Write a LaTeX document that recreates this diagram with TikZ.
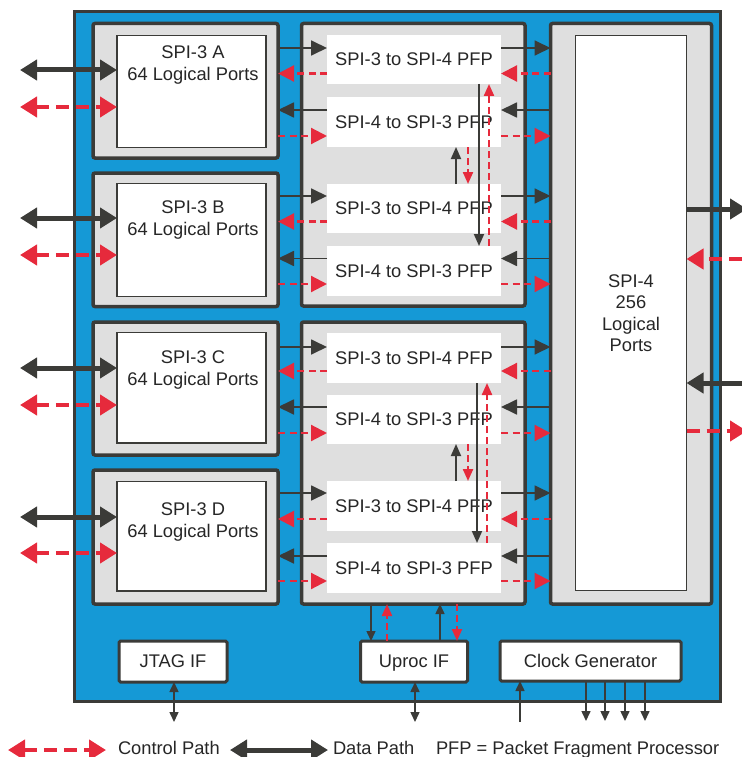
\documentclass[tikz,border=0pt]{standalone}
\usepackage{fontspec}
\setmainfont{Liberation Sans}
\usetikzlibrary{arrows.meta}
\definecolor{chipblue}{HTML}{1599D6}
\definecolor{boxgray}{HTML}{DFDFDF}
\definecolor{edgec}{HTML}{3B3B38}
\definecolor{ctrlred}{HTML}{E62A3C}
\definecolor{txtc}{HTML}{262626}
\tikzset{
  lab/.style={font=\fontsize{18.3pt}{21.5pt}\selectfont, text=txtc, inner sep=0pt, outer sep=0pt},
  blk/.style={outer sep=0pt, inner sep=0pt, anchor=north west},
  grp/.style={blk, draw=edgec, fill=boxgray, line width=3.5pt, rounded corners=2pt},
  wbox/.style={blk, draw=edgec, fill=white, line width=1.5pt},
  pfp/.style={blk, lab, fill=white, text depth=0pt, minimum width=174pt},
  iobox/.style={blk, lab, draw=edgec, fill=white, line width=3pt, rounded corners=1.5pt, text depth=0pt},
  da/.style={draw=edgec, line width=1.8pt, -{Triangle[length=16pt,width=15pt]}},
  ca/.style={draw=ctrlred, line width=2.2pt, dash pattern=on 7pt off 4.5pt, -{Triangle[length=16pt,width=16pt]}},
  vda/.style={draw=edgec, line width=1.8pt, -{Triangle[length=12pt,width=10pt]}},
  vca/.style={draw=ctrlred, line width=2.2pt, dash pattern=on 7pt off 4pt, -{Triangle[length=12pt,width=10pt]}},
  ba/.style={draw=edgec, line width=1.5pt, -{Triangle[length=10pt,width=9pt]}},
  bda/.style={draw=edgec, line width=1.5pt, {Triangle[length=10pt,width=9pt]}-{Triangle[length=10pt,width=9pt]}},
  xda/.style={draw=edgec, line width=5pt, {Triangle[length=17pt,width=20pt]}-{Triangle[length=17pt,width=20pt]}},
  xca/.style={draw=ctrlred, line width=4.5pt, dash pattern=on 13pt off 7pt, {Triangle[length=17pt,width=20pt]}-{Triangle[length=17pt,width=20pt]}},
  xdr/.style={draw=edgec, line width=5pt, -{Triangle[length=17pt,width=20pt]}},
  xcr/.style={draw=ctrlred, line width=4.5pt, dash pattern=on 13pt off 7pt, -{Triangle[length=17pt,width=20pt]}},
}
\begin{document}
\begin{tikzpicture}[x=1pt,y=-1pt]
\useasboundingbox (0,0) rectangle (741,757);
% chip outline
\node[blk, draw=edgec, fill=chipblue, line width=3pt, minimum width=646.5pt, minimum height=690pt] (chip) at (74,11.5) {};
% SPI-3 blocks
\node[grp, minimum width=185pt, minimum height=134.5pt] (gA) at (93,23.5) {};
\node[grp, minimum width=185pt, minimum height=133.5pt] (gB) at (93,173) {};
\node[grp, minimum width=185pt, minimum height=133pt] (gC) at (93,322) {};
\node[grp, minimum width=185pt, minimum height=134pt] (gD) at (93,470) {};
\node[wbox, minimum width=149pt, minimum height=112pt] (wA) at (117,35.5) {};
\node[wbox, minimum width=149pt, minimum height=113pt] (wB) at (117,183.5) {};
\node[wbox, minimum width=149pt, minimum height=110.5pt] (wC) at (117,332.5) {};
\node[wbox, minimum width=149pt, minimum height=109.5pt] (wD) at (117,481.5) {};
\node[lab, anchor=base] (tA1) at (193,58.3) {SPI-3 A};
\node[lab, anchor=base] (tA2) at (193,80.5) {64 Logical Ports};
\node[lab, anchor=base] (tB1) at (193,213) {SPI-3 B};
\node[lab, anchor=base] (tB2) at (193,235) {64 Logical Ports};
\node[lab, anchor=base] (tC1) at (193,363) {SPI-3 C};
\node[lab, anchor=base] (tC2) at (193,385) {64 Logical Ports};
\node[lab, anchor=base] (tD1) at (193,515) {SPI-3 D};
\node[lab, anchor=base] (tD2) at (193,537) {64 Logical Ports};
% PFP groups
\node[grp, minimum width=223.5pt, minimum height=282.5pt] (G1) at (301.5,23.5) {};
\node[grp, minimum width=223.5pt, minimum height=282pt] (G2) at (301.5,322) {};
\node[pfp, minimum height=49pt] (p1) at (327,35) {SPI-3 to SPI-4 PFP};
\node[pfp, minimum height=50pt] (p2) at (327,97) {SPI-4 to SPI-3 PFP};
\node[pfp, minimum height=49pt] (p3) at (327,184) {SPI-3 to SPI-4 PFP};
\node[pfp, minimum height=50pt] (p4) at (327,246) {SPI-4 to SPI-3 PFP};
\node[pfp, minimum height=50pt] (q1) at (327,333) {SPI-3 to SPI-4 PFP};
\node[pfp, minimum height=49pt] (q2) at (327,395) {SPI-4 to SPI-3 PFP};
\node[pfp, minimum height=50pt] (q3) at (327,481) {SPI-3 to SPI-4 PFP};
\node[pfp, minimum height=50pt] (q4) at (327,543) {SPI-4 to SPI-3 PFP};
% SPI-4 block
\node[grp, minimum width=161pt, minimum height=580.5pt] (g4) at (550.5,23.5) {};
\node[wbox, lab, align=center, minimum width=111pt, minimum height=555pt] (s4) at (575.5,35.5) {SPI-4\\256\\Logical\\Ports};
% bottom blocks
\node[iobox, minimum width=108pt, minimum height=41pt] (jtag) at (119,641) {JTAG IF};
\node[iobox, minimum width=107pt, minimum height=41pt] (uproc) at (360.5,641) {Uproc IF};
\node[iobox, minimum width=181pt, minimum height=40pt] (clk) at (500,641) {Clock Generator};
% horizontal paths SPI-3 <-> PFP <-> SPI-4
\foreach \s/\pa/\pb/\ya/\yb/\yc/\yd in {gA/p1/p2/48/73.5/110/136, gB/p3/p4/196/221.5/258.5/284, gC/q1/q2/347/371/407/433, gD/q3/q4/493/519/556/581}{
  \draw[da] (\s.east |- 0,\ya) -- (\pa.west |- 0,\ya);
  \draw[ca] (\pa.west |- 0,\yb) -- (\s.east |- 0,\yb);
  \draw[da] (\pb.west |- 0,\yc) -- (\s.east |- 0,\yc);
  \draw[ca] (\s.east |- 0,\yd) -- (\pb.west |- 0,\yd);
  \draw[da] (\pa.east |- 0,\ya) -- (g4.west |- 0,\ya);
  \draw[ca] (g4.west |- 0,\yb) -- (\pa.east |- 0,\yb);
  \draw[da] (g4.west |- 0,\yc) -- (\pb.east |- 0,\yc);
  \draw[ca] (\pb.east |- 0,\yd) -- (g4.west |- 0,\yd);
}
% vertical paths inside groups
\draw[vda] (p1.south -| 479,0) -- (p4.north -| 479,0);
\draw[vca] (p4.north -| 489,0) -- (p1.south -| 489,0);
\draw[vda] (p3.north -| 456,0) -- (p2.south -| 456,0);
\draw[vca] (p2.south -| 468,0) -- (p3.north -| 468,0);
\draw[vda] (q1.south -| 477,0) -- (q4.north -| 477,0);
\draw[vca] (q4.north -| 487,0) -- (q1.south -| 487,0);
\draw[vda] (q3.north -| 456,0) -- (q2.south -| 456,0);
\draw[vca] (q2.south -| 468,0) -- (q3.north -| 468,0);
% PFP group 2 <-> Uproc
\draw[ba] (G2.south -| 371,0) -- (uproc.north -| 371,0);
\draw[vca] (uproc.north -| 387,0) -- (G2.south -| 387,0);
\draw[ba] (uproc.north -| 440,0) -- (G2.south -| 440,0);
\draw[vca] (G2.south -| 457,0) -- (uproc.north -| 457,0);
% bottom external
\coordinate (jt) at (174,722);
\draw[bda] (jtag.south -| jt) -- (jt);
\coordinate (ut) at (415,722);
\draw[bda] (uproc.south -| ut) -- (ut);
\coordinate (ci) at (520,722);
\draw[ba] (ci) -- (clk.south -| ci);
\foreach \x [count=\i] in {586,605,625,645}{
  \coordinate (co\i) at (\x,721);
  \draw[ba] (clk.south -| co\i) -- (co\i);
}
% left external
\foreach \w/\yd/\yc in {wA/70/107, wB/218/255, wC/368/405, wD/517/553}{
  \coordinate (Ld\w) at (20,\yd);
  \coordinate (Lc\w) at (20,\yc);
  \draw[xda] (Ld\w) -- (\w.west |- Ld\w);
  \draw[xca] (Lc\w) -- (\w.west |- Lc\w);
}
% right external
\coordinate (R1) at (747,209);
\draw[xdr] (s4.east |- R1) -- (R1);
\coordinate (R2) at (742,259);
\draw[xcr] (R2) -- (s4.east |- R2);
\coordinate (R3) at (742,383);
\draw[xdr] (R3) -- (s4.east |- R3);
\coordinate (R4) at (747,431);
\draw[xcr] (s4.east |- R4) -- (R4);
% legend
\coordinate (lc1) at (8,750);
\coordinate (lc2) at (106,750);
\draw[xca] (lc1) -- (lc2);
\node[lab, anchor=base west] (lct) at (118,754.5) {Control Path};
\coordinate (ld1) at (230,750);
\coordinate (ld2) at (328,750);
\draw[xda] (ld1) -- (ld2);
\node[lab, anchor=base west] (ldt) at (333,754.5) {Data Path};
\node[lab, anchor=base west] (lpf) at (436,754.5) {PFP = Packet Fragment Processor};
\end{tikzpicture}
\end{document}
